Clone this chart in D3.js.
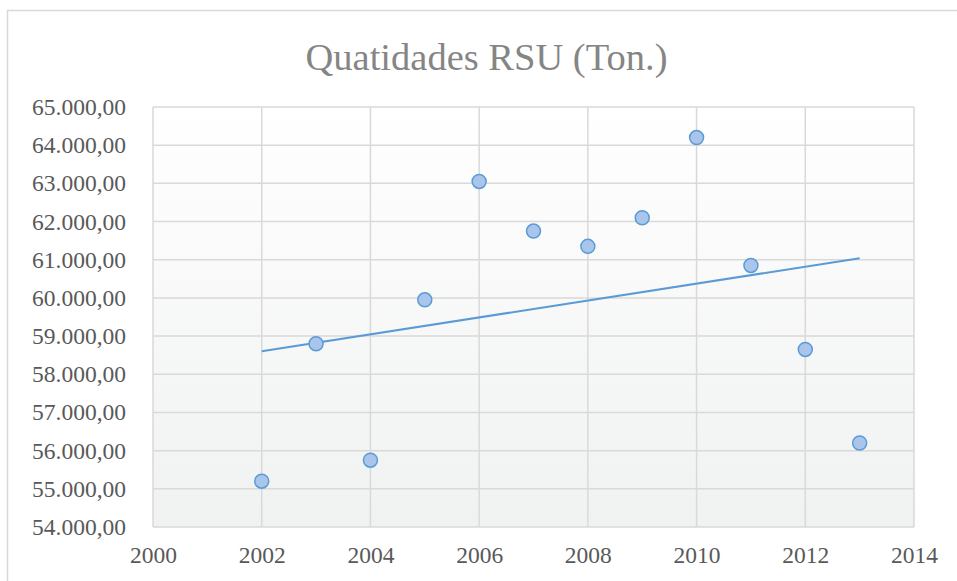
<!DOCTYPE html>
<html>
<head>
<meta charset="utf-8">
<script src="https://cdn.jsdelivr.net/npm/d3@7"></script>
<style>
  body { margin: 0; background: #fff; }
  svg { display: block; }
</style>
</head>
<body>
<script>
// Quatidades RSU scatter chart

var years = [2002, 2003, 2004, 2005, 2006, 2007, 2008, 2009, 2010, 2011, 2012, 2013],
	tons = [55200, 58800, 55750, 59950, 63050, 61750, 61350, 62100, 64200, 60850, 58650, 56200],
	xTicks = [2000, 2002, 2004, 2006, 2008, 2010, 2012, 2014],
	yTicks = [54000, 55000, 56000, 57000, 58000, 59000, 60000, 61000, 62000, 63000, 64000, 65000];

var width = 957, height = 581,
	plot = {left: 153, top: 107, right: 914, bottom: 527},
	serif = "'Liberation Serif'";

var svg = d3.select('body').append('svg')
	.attr('width', width)
	.attr('height', height);

var x = d3.scaleLinear().domain([2000, 2014]).range([plot.left, plot.right]),
	y = d3.scaleLinear().domain([54000, 65000]).range([plot.bottom, plot.top]);

// outer chart border
svg.append('rect')
	.attr('x', 7.5).attr('y', 10.5)
	.attr('width', 960).attr('height', 600)
	.style('fill', 'none')
	.style('stroke', '#d9d9d9')
	.style('stroke-width', 1.5);

// plot background gradient
var grad = svg.append('defs').append('linearGradient')
	.attr('id', 'bg')
	.attr('x1', 0).attr('y1', 0).attr('x2', 0).attr('y2', 1);
grad.append('stop').attr('offset', '0%').attr('stop-color', '#ffffff');
grad.append('stop').attr('offset', '100%').attr('stop-color', '#f0f1f1');

svg.append('rect')
	.attr('x', plot.left).attr('y', plot.top)
	.attr('width', plot.right - plot.left)
	.attr('height', plot.bottom - plot.top)
	.style('fill', 'url(#bg)');

// gridlines
var grid = svg.append('g')
	.style('stroke', '#d9d9d9')
	.style('stroke-width', 1.5);

grid.selectAll('line.h')
	.data(yTicks)
	.enter()
	.append('line')
	.attr('class', 'h')
	.attr('x1', plot.left).attr('x2', plot.right)
	.attr('y1', function(d) {return y(d);})
	.attr('y2', function(d) {return y(d);});

grid.selectAll('line.v')
	.data(xTicks)
	.enter()
	.append('line')
	.attr('class', 'v')
	.attr('y1', plot.top).attr('y2', plot.bottom)
	.attr('x1', function(d) {return x(d);})
	.attr('x2', function(d) {return x(d);});

// axes labels
var fmt = function(d) {
	return d3.format(',.2f')(d).replace(/,/g, '#').replace('.', ',').replace(/#/g, '.');
};

var yAxis = svg.append('g')
	.attr('transform', 'translate(' + (plot.left - 27) + ',0)')
	.call(d3.axisLeft(y).tickValues(yTicks).tickFormat(fmt).tickSize(0).tickPadding(0));

var xAxis = svg.append('g')
	.attr('transform', 'translate(0,' + (plot.bottom + 19) + ')')
	.call(d3.axisBottom(x).tickValues(xTicks).tickFormat(d3.format('d')).tickSize(0).tickPadding(0));

svg.selectAll('.domain').remove();
svg.selectAll('.tick text')
	.attr('font-family', serif)
	.attr('font-size', 23.5)
	.attr('fill', '#595959');

// trendline (least squares)
var mx = d3.mean(years), my = d3.mean(tons),
	sxy = d3.sum(years, function(d, i) {return (d - mx) * (tons[i] - my);}),
	sxx = d3.sum(years, function(d) {return (d - mx) * (d - mx);}),
	slope = sxy / sxx,
	icpt = my - slope * mx,
	ends = d3.extent(years);

svg.append('line')
	.attr('x1', x(ends[0])).attr('y1', y(icpt + slope * ends[0]))
	.attr('x2', x(ends[1])).attr('y2', y(icpt + slope * ends[1]))
	.style('stroke', '#5b9bd5')
	.style('stroke-width', 2);

// points
svg.selectAll('circle.pt')
	.data(years)
	.enter()
	.append('circle')
	.attr('class', 'pt')
	.attr('cx', function(d) {return x(d);})
	.attr('cy', function(d, i) {return y(tons[i]);})
	.attr('r', 7)
	.style('fill', '#a9c5eb')
	.style('stroke', '#5b9bd5')
	.style('stroke-width', 1.5);

// title
svg.append('text')
	.attr('x', 486.5)
	.attr('y', 70)
	.attr('text-anchor', 'middle')
	.attr('font-family', serif)
	.attr('font-size', 38.5)
	.attr('fill', '#858585')
	.text('Quatidades RSU (Ton.)');
</script>
</body>
</html>
